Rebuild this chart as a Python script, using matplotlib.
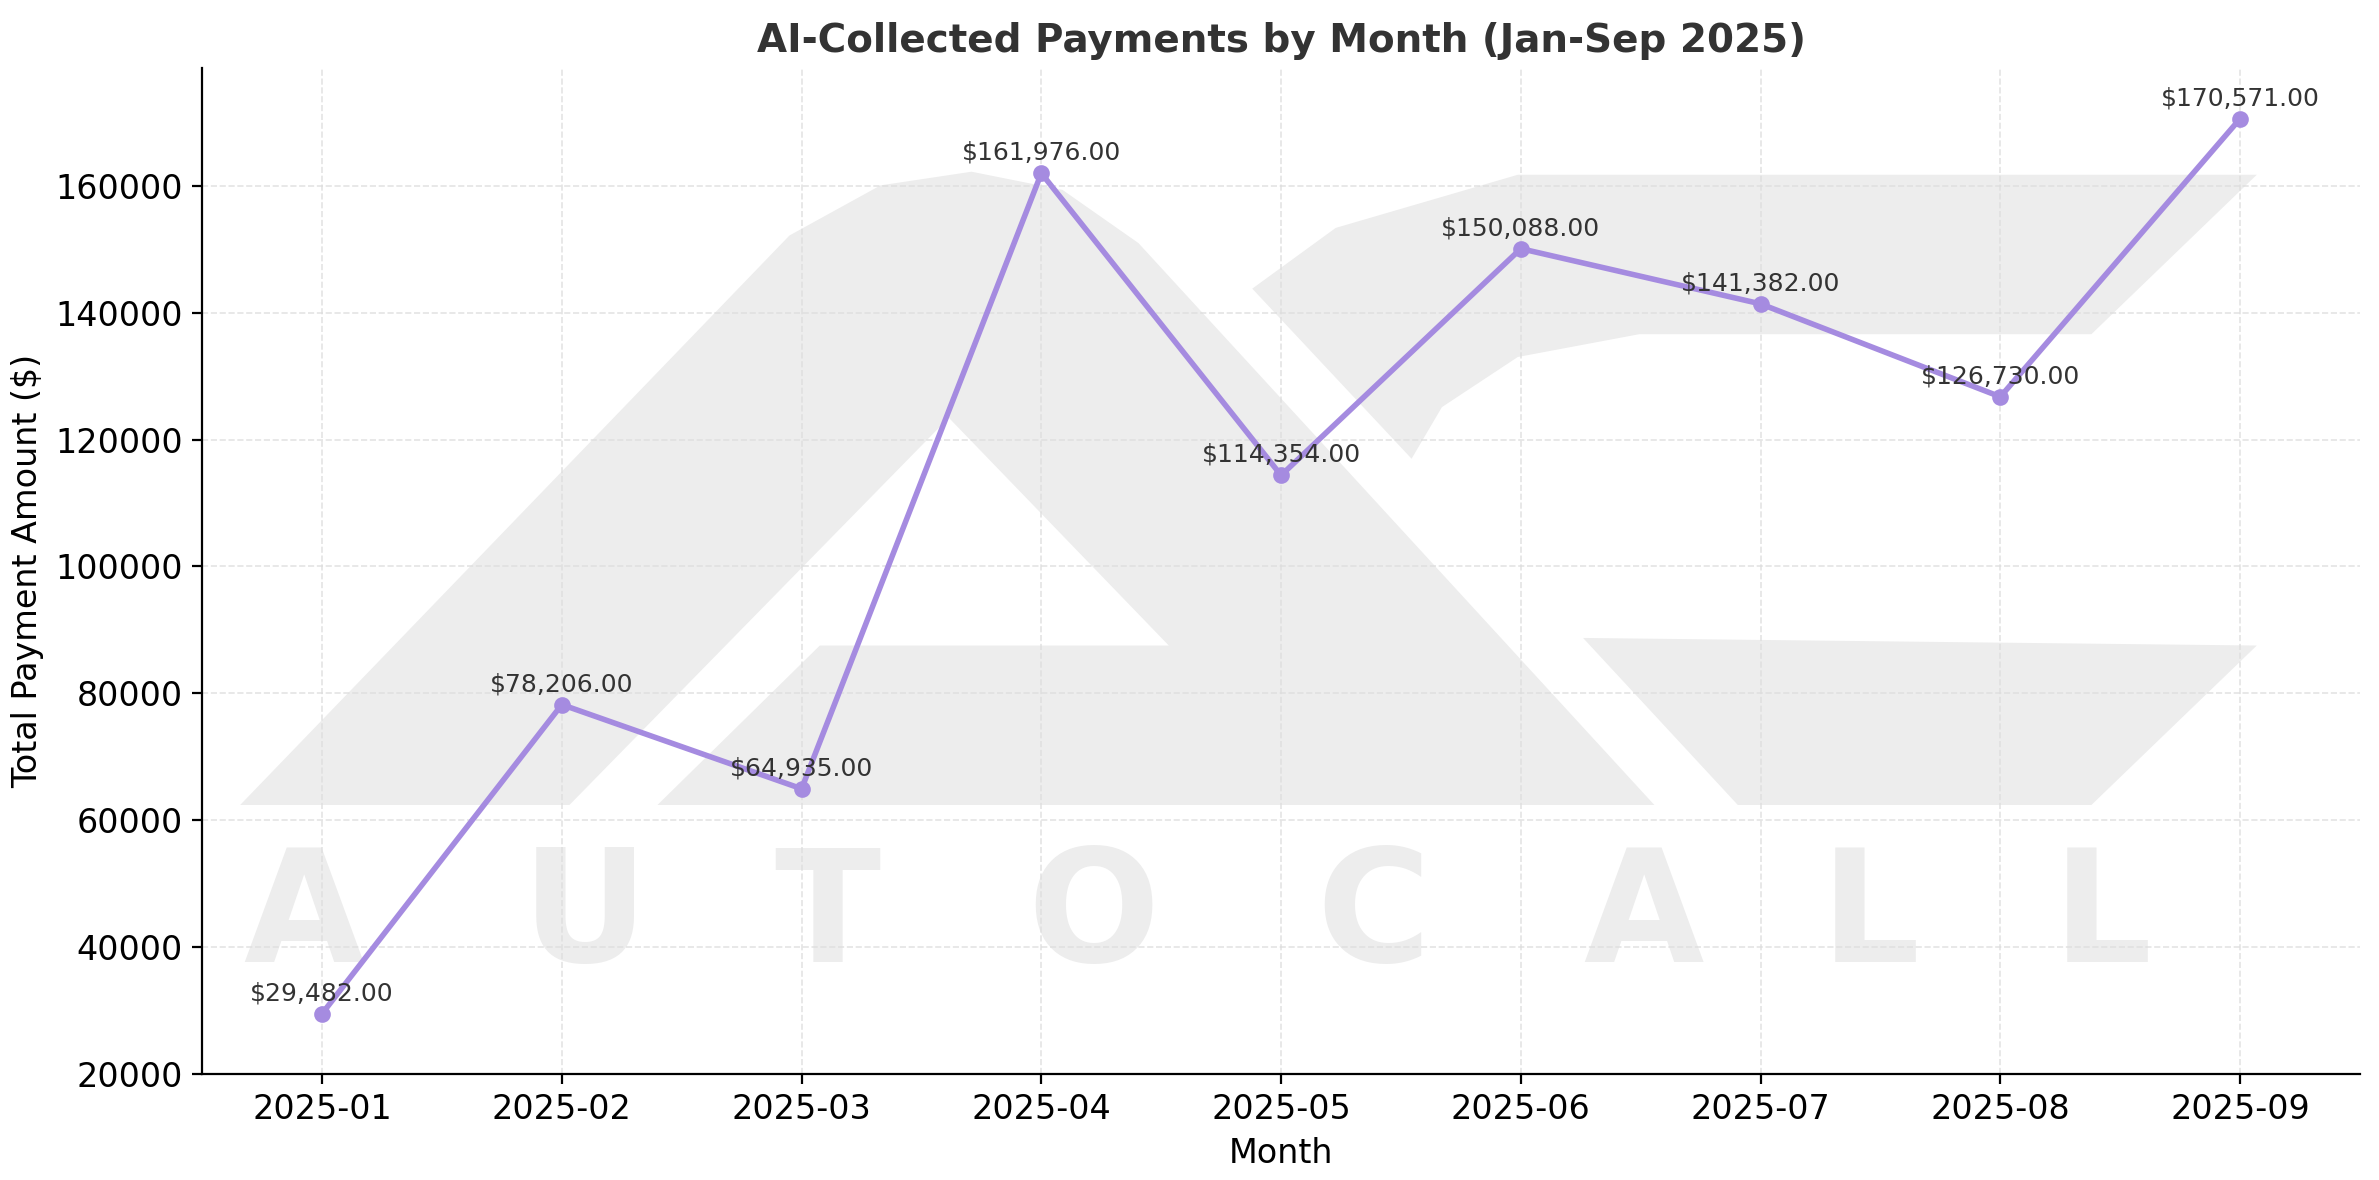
import matplotlib
matplotlib.use("Agg")
import matplotlib.pyplot as plt
from matplotlib.patches import Polygon

months = ["2025-01","2025-02","2025-03","2025-04","2025-05","2025-06","2025-07","2025-08","2025-09"]
values = [29482, 78206, 64935, 161976, 114354, 150088, 141382, 126730, 170571]

fig = plt.figure(figsize=(11.895, 5.9), dpi=200)
ax = fig.add_axes([0.085, 0.09, 0.907, 0.852])

def P(pts):
    return [((x-133)/1422, (707-y)/662) for x, y in pts]

wm = "#ededed"
for pts in [
    [(158,530),(520,155),(580,122),(640,113),(700,125),(750,160),(1090,530),(433,530),(540,425),(770,425),(625,275),(375,530)],
    [(825,190),(880,150),(1000,115),(1487,115),(1378,220),(1080,220),(1000,235),(950,268),(930,302)],
    [(1043,420),(1487,425),(1378,530),(1145,530)],
]:
    ax.add_patch(Polygon(P(pts), closed=True, transform=ax.transAxes, color=wm, lw=0, zorder=0))
for ch, x in zip("AUTOCALL", [200,385,545,720,905,1083,1232,1385]):
    ax.text((x-133)/1422, (707-605)/662, ch, transform=ax.transAxes, ha="center", va="center",
            fontsize=56, fontweight="bold", color=wm, zorder=0)

xs = list(range(len(months)))
ax.plot(xs, values, color="#a58be0", lw=2, marker="o", ms=5, zorder=3)
for x, v in zip(xs, values):
    ax.annotate(f"${v:,.2f}", (x, v), xytext=(0, 3), textcoords="offset points",
                ha="center", va="bottom", fontsize=9, color="#333333", zorder=4)

ax.set_xticks(xs)
ax.set_xticklabels(months, fontsize=12)
ax.tick_params(axis="y", labelsize=12)
ax.set_xlim(-0.5, 8.5)
ax.set_ylim(20000, 178500)
ax.grid(True, linestyle="--", color="#dddddd", lw=0.6, alpha=0.8)
ax.set_axisbelow(True)
for s in ["top", "right"]:
    ax.spines[s].set_visible(False)
ax.set_xlabel("Month", fontsize=12)
ax.set_ylabel("Total Payment Amount ($)", fontsize=12)
ax.set_title("AI-Collected Payments by Month (Jan-Sep 2025)", fontsize=14, fontweight="bold", color="#333333")
fig.savefig("out.png", dpi=200)
